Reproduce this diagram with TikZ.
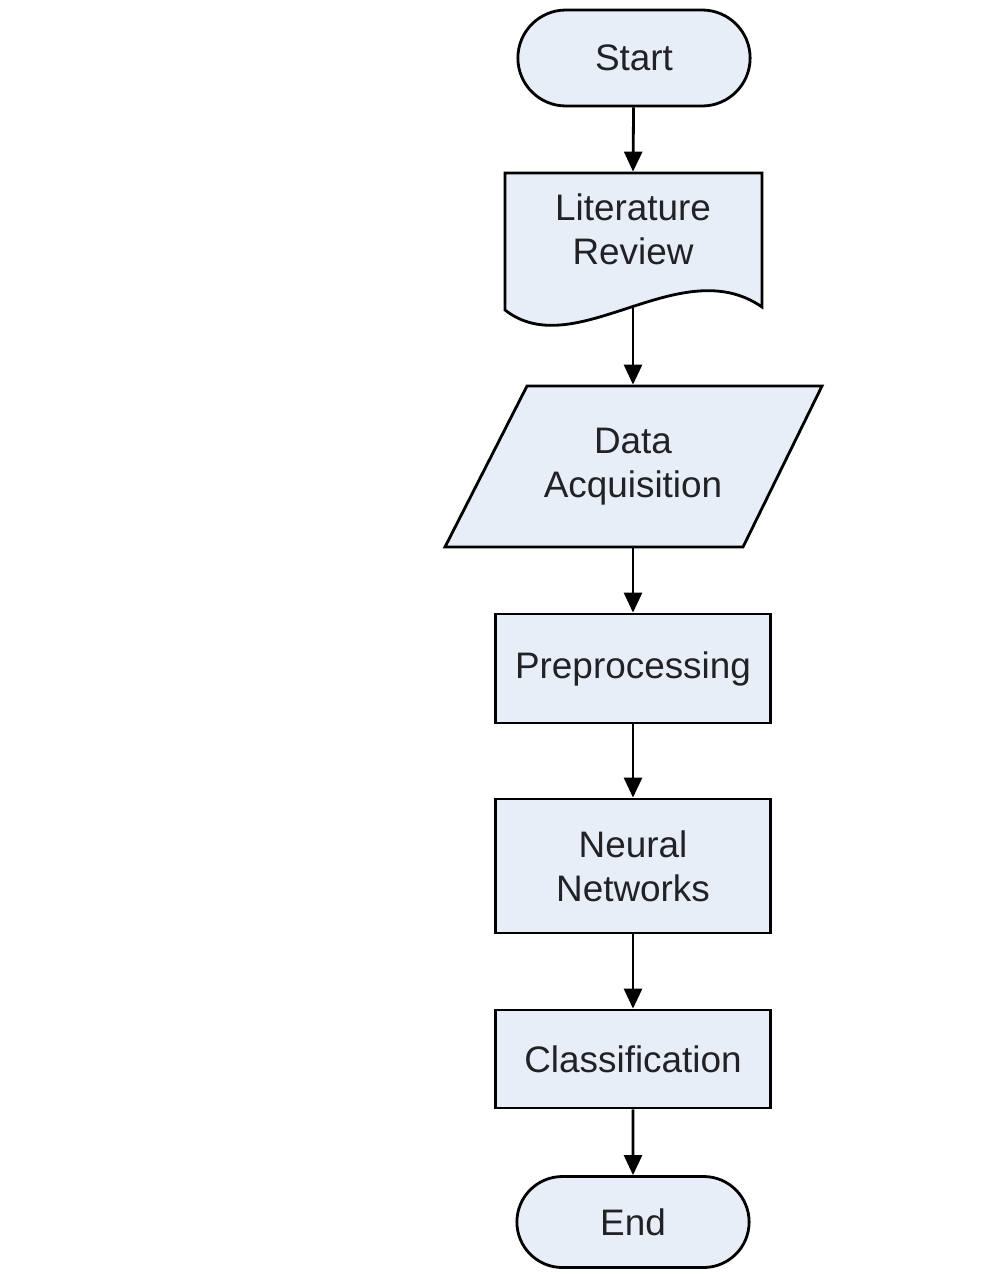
\documentclass[tikz,border=0pt]{standalone}
\usepackage{fontspec}
\setmainfont{Liberation Sans}
\usetikzlibrary{shapes.geometric,shapes.misc}
\usetikzlibrary{arrows.meta,calc}
\definecolor{boxfill}{RGB}{232,238,248}
\definecolor{inkgray}{RGB}{34,34,38}

\begin{document}
\begin{tikzpicture}[x=0.02cm, y=-0.02cm,
                    line width=1.6pt,
                    every node/.style = {align=center, text=inkgray,
                                         font=\fontsize{21}{25}\selectfont},
                    terminal/.style = {rounded rectangle, draw, fill=boxfill,
                                       minimum width=4.88cm, minimum height=1.92cm},
                    process/.style = {rectangle, draw, fill=boxfill,
                                      minimum width=5.5cm},
                    flow/.style = {-{Triangle[length=0.4cm,width=0.36cm]}}]
                \useasboundingbox (0,0) rectangle (1006,1274);
                % shapes drawn by hand
                \filldraw[fill=boxfill] (505,173) -- (762,173) -- (762,307)
                    .. controls (680,250) and (575,365) .. (505,310) -- cycle;
                \filldraw[fill=boxfill] (527,386) -- (822,386) -- (743,547)
                    -- (445,547) -- cycle;
                % nodes
                \node[terminal] (start) at (634,58) {Start};
                \node[minimum height=2.26cm] (lit) at (633,229.5) {Literature\\Review};
                \coordinate (litbot) at (633,308);
                \node[minimum height=3.22cm] (data) at (633,466.5) {Data\\Acquisition};
                \node[process, minimum height=2.18cm] (pre) at (633,668.5) {Preprocessing};
                \node[process, minimum height=2.68cm] (nn) at (633,866) {Neural\\Networks};
                \node[process, minimum height=1.96cm] (cls) at (633,1059) {Classification};
                \node[terminal, minimum height=1.82cm] (end) at (633,1222) {End};
                % connectors
                \draw[flow] (start) -- (lit.north);
                \draw[flow] (litbot) -- (data.north);
                \draw[flow] (data.south) -- (pre);
                \draw[flow] (pre) -- (nn);
                \draw[flow] (nn) -- (cls);
                \draw[flow] (cls) -- (end);
\end{tikzpicture}
\end{document}
